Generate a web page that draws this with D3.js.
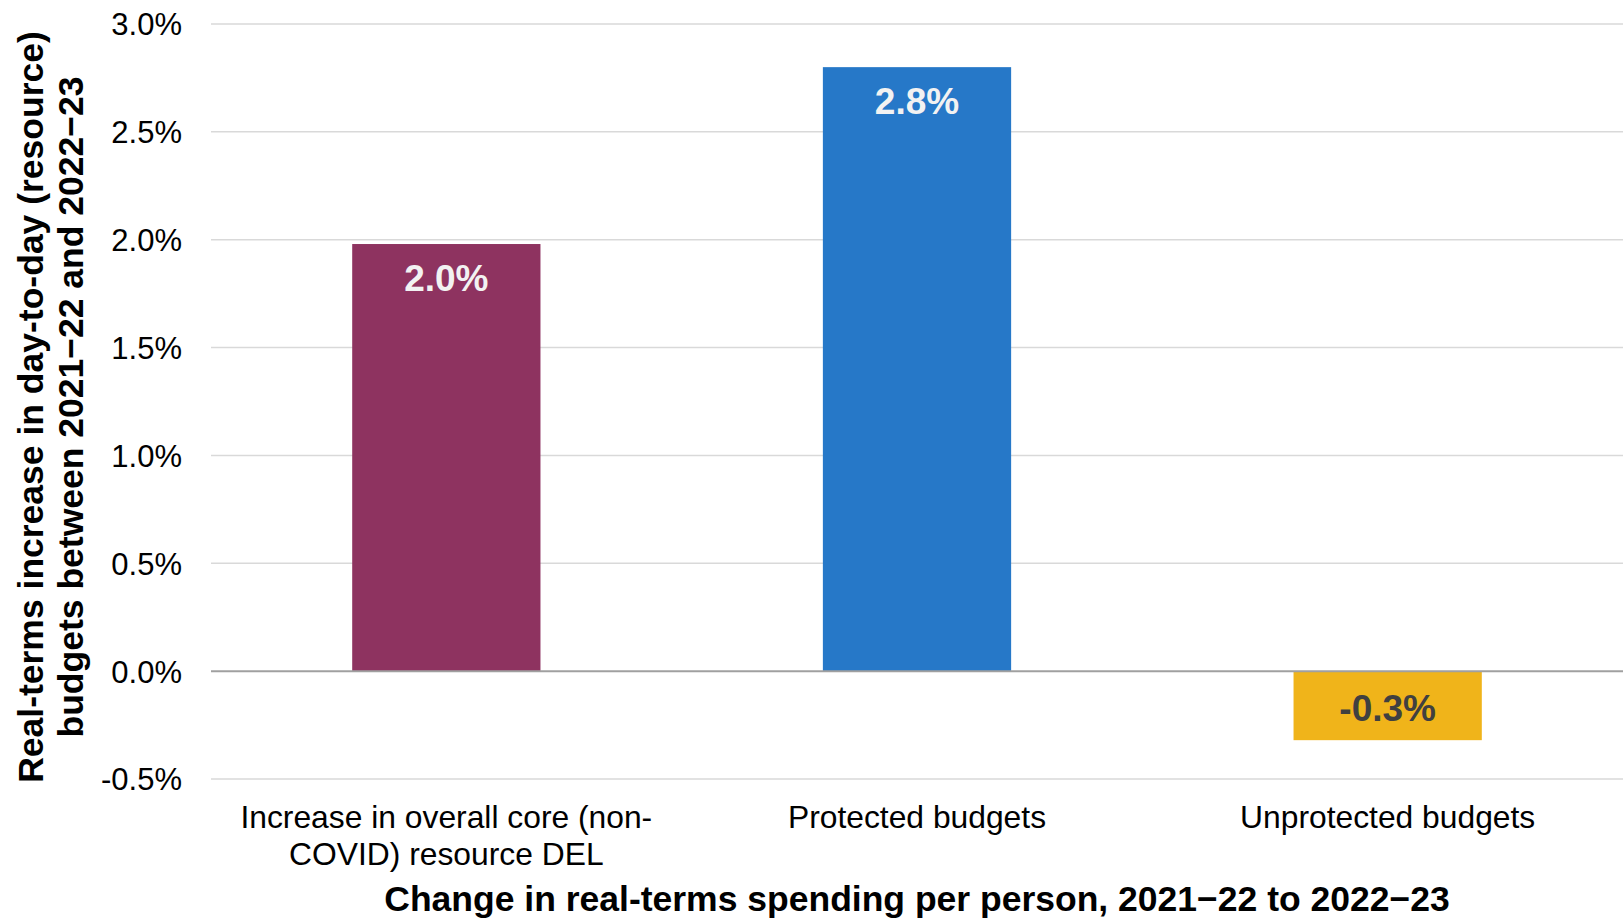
<!DOCTYPE html>
<html>
<head>
<meta charset="utf-8">
<script src="https://cdn.jsdelivr.net/npm/d3@7"></script>
<style>
  body { margin: 0; background: #fff; }
  svg text { font-family: "Liberation Sans", Arial, sans-serif; }
</style>
</head>
<body>
<div class="chart"></div>
<script>
// data
const categories = [
    ['Increase in overall core (non-', 'COVID) resource DEL'],
    ['Protected budgets'],
    ['Unprotected budgets']
];
const values = [1.98, 2.80, -0.32];
const labels = ['2.0%', '2.8%', '-0.3%'];
const colors = ['#8E3360', '#2678C8', '#F0B41A'];
const labelColors = ['#F2F2F2', '#F2F2F2', '#404040'];
const yTicks = [-0.5, 0, 0.5, 1, 1.5, 2, 2.5, 3];

const width = 1623;
const height = 919;
const margin = {top: 24, right: 0, bottom: 140, left: 211};

let svg = d3.select('.chart').append('svg')
    .attr('width', width)
    .attr('height', height);

let x = d3.scaleBand()
    .domain(d3.range(categories.length))
    .range([margin.left, width - margin.right])
    .paddingInner(0.6)
    .paddingOuter(0.3);

let y = d3.scaleLinear()
    .domain([-0.5, 3])
    .range([height - margin.bottom, margin.top]);

// gridlines
svg.append('g')
    .selectAll('line')
    .data(yTicks.filter(d => d !== 0))
    .enter()
    .append('line')
    .attr('x1', margin.left)
    .attr('x2', width - margin.right)
    .attr('y1', d => y(d))
    .attr('y2', d => y(d))
    .style('stroke', '#d9d9d9')
    .style('stroke-width', 1.5);

// y axis labels
let yAxis = svg.append('g')
    .attr('transform', `translate(${margin.left},0)`)
    .call(d3.axisLeft(y).tickValues(yTicks).tickFormat(d => d.toFixed(1) + '%').tickSize(0).tickPadding(29));
yAxis.select('.domain').remove();
yAxis.selectAll('text')
    .style('font-size', '31px')
    .style('fill', '#000')
    .attr('dy', '0.35em');

// bars
svg.append('g')
    .selectAll('rect')
    .data(values)
    .enter()
    .append('rect')
    .attr('x', (d, i) => x(i))
    .attr('width', x.bandwidth())
    .attr('y', d => y(Math.max(d, 0)))
    .attr('height', d => Math.abs(y(d) - y(0)))
    .style('fill', (d, i) => colors[i]);

// zero line
svg.append('line')
    .attr('x1', margin.left)
    .attr('x2', width - margin.right)
    .attr('y1', y(0))
    .attr('y2', y(0))
    .style('stroke', '#a0a0a0')
    .style('stroke-width', 2);

// data labels
svg.append('g')
    .selectAll('text')
    .data(values)
    .enter()
    .append('text')
    .attr('x', (d, i) => x(i) + x.bandwidth() / 2)
    .attr('y', d => d >= 0 ? y(d) + 47 : y(0) + 50)
    .attr('text-anchor', 'middle')
    .style('font-size', '37px')
    .style('font-weight', 'bold')
    .style('fill', (d, i) => labelColors[i])
    .text((d, i) => labels[i]);

// category labels
let cat = svg.append('g')
    .selectAll('text')
    .data(categories)
    .enter()
    .append('text')
    .attr('text-anchor', 'middle')
    .style('font-size', '31.8px')
    .style('fill', '#000');
cat.selectAll('tspan')
    .data((d, i) => d.map(t => ({t: t, i: i})))
    .enter()
    .append('tspan')
    .attr('x', d => x(d.i) + x.bandwidth() / 2)
    .attr('y', (d, j) => 828 + j * 36.5)
    .text(d => d.t);

// axis titles
svg.append('text')
    .attr('x', 917)
    .attr('y', 911)
    .attr('text-anchor', 'middle')
    .style('font-size', '35.5px')
    .style('font-weight', 'bold')
    .text('Change in real-terms spending per person, 2021\u221222 to 2022\u221223');

let yTitle = svg.append('text')
    .attr('transform', `translate(0, 407) rotate(-90)`)
    .attr('text-anchor', 'middle')
    .style('font-size', '35.5px')
    .style('font-weight', 'bold');
yTitle.append('tspan').attr('x', 0).attr('y', 43).text('Real-terms increase in day-to-day (resource)');
yTitle.append('tspan').attr('x', 0).attr('y', 83).text('budgets between 2021\u221222 and 2022\u221223');
</script>
</body>
</html>
